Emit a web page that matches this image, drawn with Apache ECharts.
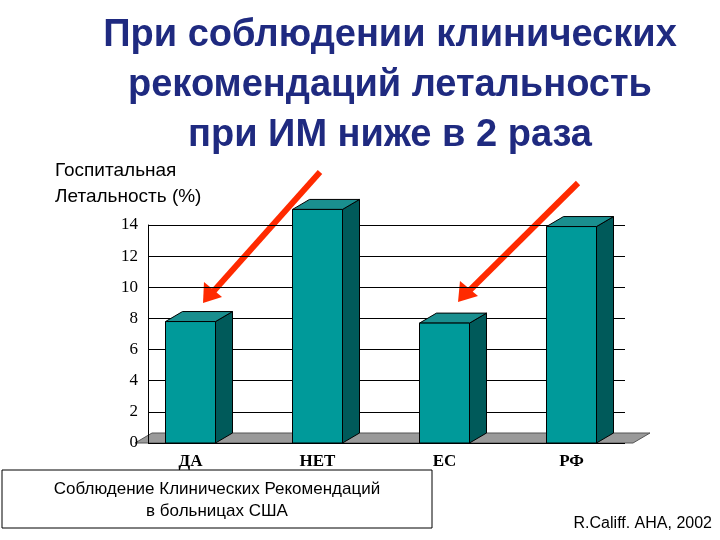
<!DOCTYPE html><html><head><meta charset="utf-8"><script src="https://cdn.jsdelivr.net/npm/echarts@6/dist/echarts.min.js"></script></head><body style="margin:0"><div id="c" style="width:720px;height:540px"></div><script>
const categories=['ДА','НЕТ','ЕС','РФ'];
const values=[7.8,15.0,7.7,13.9];
const yTicks=[0,2,4,6,8,10,12,14];
const ch=echarts.init(document.getElementById('c'));
const DX=17,DY=-10,W=50;
ch.setOption({
 animation:false,
 title:{text:'При соблюдении клинических\nрекомендаций летальность\nпри ИМ ниже в 2 раза',left:385,textAlign:'center',top:6,textStyle:{fontFamily:'Liberation Sans',fontWeight:'bold',fontSize:38,lineHeight:50,color:'#1f2a80'}},
 grid:[{left:148,right:95,top:225,bottom:97},{left:127,right:85,top:225,bottom:97}],
 xAxis:[{type:'category',gridIndex:0,data:categories,show:false},
  {type:'category',gridIndex:1,data:categories,axisTick:{show:false},axisLine:{show:false},axisLabel:{fontFamily:'Liberation Serif',fontWeight:'bold',fontSize:17,color:'#000',margin:10,align:'center'}}],
 yAxis:[{type:'value',gridIndex:0,min:0,max:14,interval:2,axisLine:{show:true,lineStyle:{color:'#000'}},axisTick:{show:false},splitLine:{lineStyle:{color:'#000'}},axisLabel:{fontFamily:'Liberation Serif',fontSize:17,color:'#000',margin:10}},
  {type:'value',gridIndex:1,min:0,max:14,interval:2,show:false,splitLine:{show:false}}],
 series:[{type:'custom',xAxisIndex:1,yAxisIndex:1,clip:false,data:values.map((v,i)=>[i,v]),renderItem:(p,api)=>{
   const top=api.coord([api.value(0),api.value(1)]),base=api.coord([api.value(0),0]);
   const x0=top[0]-W/2,x1=x0+W,yt=top[1],yb=base[1];
   const ls={stroke:'#000',lineWidth:1};
   return {type:'group',children:[
    {type:'polygon',shape:{points:[[x1,yt],[x1+DX,yt+DY],[x1+DX,yb+DY],[x1,yb]]},style:Object.assign({fill:'#005a5a'},ls)},
    {type:'polygon',shape:{points:[[x0,yt],[x0+DX,yt+DY],[x1+DX,yt+DY],[x1,yt]]},style:Object.assign({fill:'#1a8f8f'},ls)},
    {type:'rect',shape:{x:x0,y:yt,width:W,height:yb-yt},style:Object.assign({fill:'#009a9a'},ls)}
   ]};
 }}],
 graphic:[
  {type:'polygon',z:-1,shape:{points:[[135,443],[152,433],[650,433],[633,443]]},style:{fill:'#9a9a9a',stroke:'#555'}},
  {type:'text',left:55,top:158,style:{text:'Госпитальная\nЛетальность (%)',fontFamily:'Liberation Sans',fontSize:19,lineHeight:26,fill:'#000'}},
  {type:'line',shape:{x1:320,y1:172,x2:212,y2:293},style:{stroke:'#ff2a00',lineWidth:6}},
  {type:'polygon',shape:{points:[[203,303],[204,282],[222,297]]},style:{fill:'#ff2a00'}},
  {type:'line',shape:{x1:578,y1:183,x2:467,y2:293},style:{stroke:'#ff2a00',lineWidth:6}},
  {type:'polygon',shape:{points:[[458,302],[460,281],[478,296]]},style:{fill:'#ff2a00'}},
  {type:'rect',shape:{x:2,y:470,width:430,height:58},style:{fill:'#fff',stroke:'#000',lineWidth:1}},
  {type:'text',x:217,y:478,style:{text:'Соблюдение Клинических Рекомендаций\nв больницах США',align:'center',textAlign:'center',fontFamily:'Liberation Sans',fontSize:17,lineHeight:22,fill:'#000'}},
  {type:'text',right:8,top:516,style:{text:'R.Califf. AHA, 2002',fontFamily:'Liberation Sans',fontSize:16,fill:'#000'}}
 ]
});
</script></body></html>
